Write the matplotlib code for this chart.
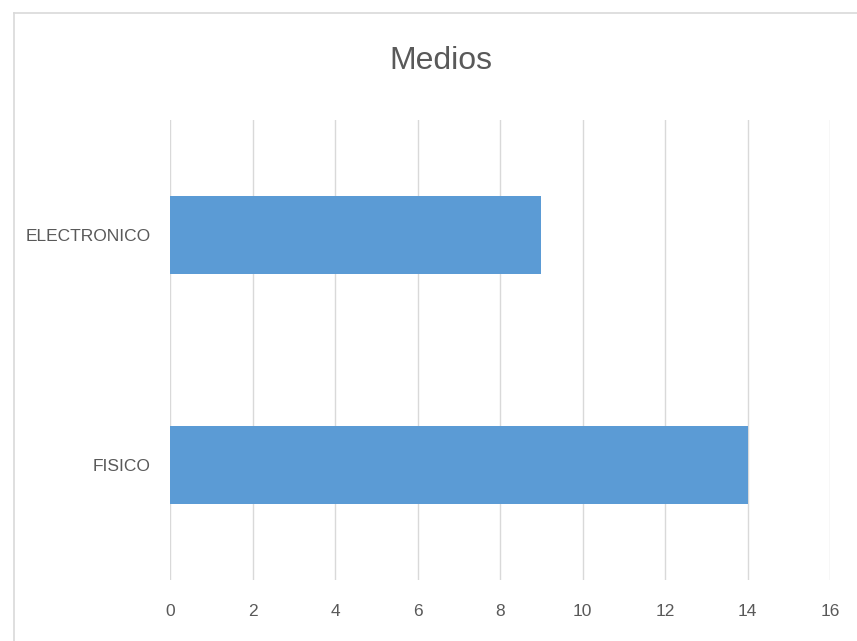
import matplotlib
matplotlib.use("Agg")
from matplotlib import pyplot as plt
from matplotlib.lines import Line2D

# data
categorias = ["FISICO", "ELECTRONICO"]
valores = [14, 9]
ticks_x = [0, 2, 4, 6, 8, 10, 12, 14, 16]

plt.rcParams['font.family'] = ['Liberation Sans', 'DejaVu Sans']
gris = '#595959'

fig = plt.figure(figsize=(8.57, 6.41), dpi=100)
ax = fig.add_axes([0.1984, 0.0952, 0.7701, 0.7176])

ax.barh(categorias, valores, height=0.34, color='#5b9bd5', zorder=2)
ax.set_xlim(0, 16)
ax.set_ylim(-0.5, 1.5)
ax.set_xticks(ticks_x)

ax.grid(axis='x', color='#d9d9d9', lw=1, zorder=0)
for s in ax.spines.values():
    s.set_visible(False)
ax.tick_params(length=0, colors=gris, labelsize=12.5)
ax.tick_params(axis='x', pad=17)
ax.tick_params(axis='y', pad=14)

fig.text(0.515, 0.905, 'Medios', ha='center', va='center',
         fontsize=23, color=gris)

# chart frame (only top and left edges visible in the crop)
fig.add_artist(Line2D([0.016, 1.0], [0.98, 0.98], color='#d9d9d9', lw=1.2))
fig.add_artist(Line2D([0.016, 0.016], [0.0, 0.98], color='#d9d9d9', lw=1.2))

fig.savefig('out.png', dpi=100)
